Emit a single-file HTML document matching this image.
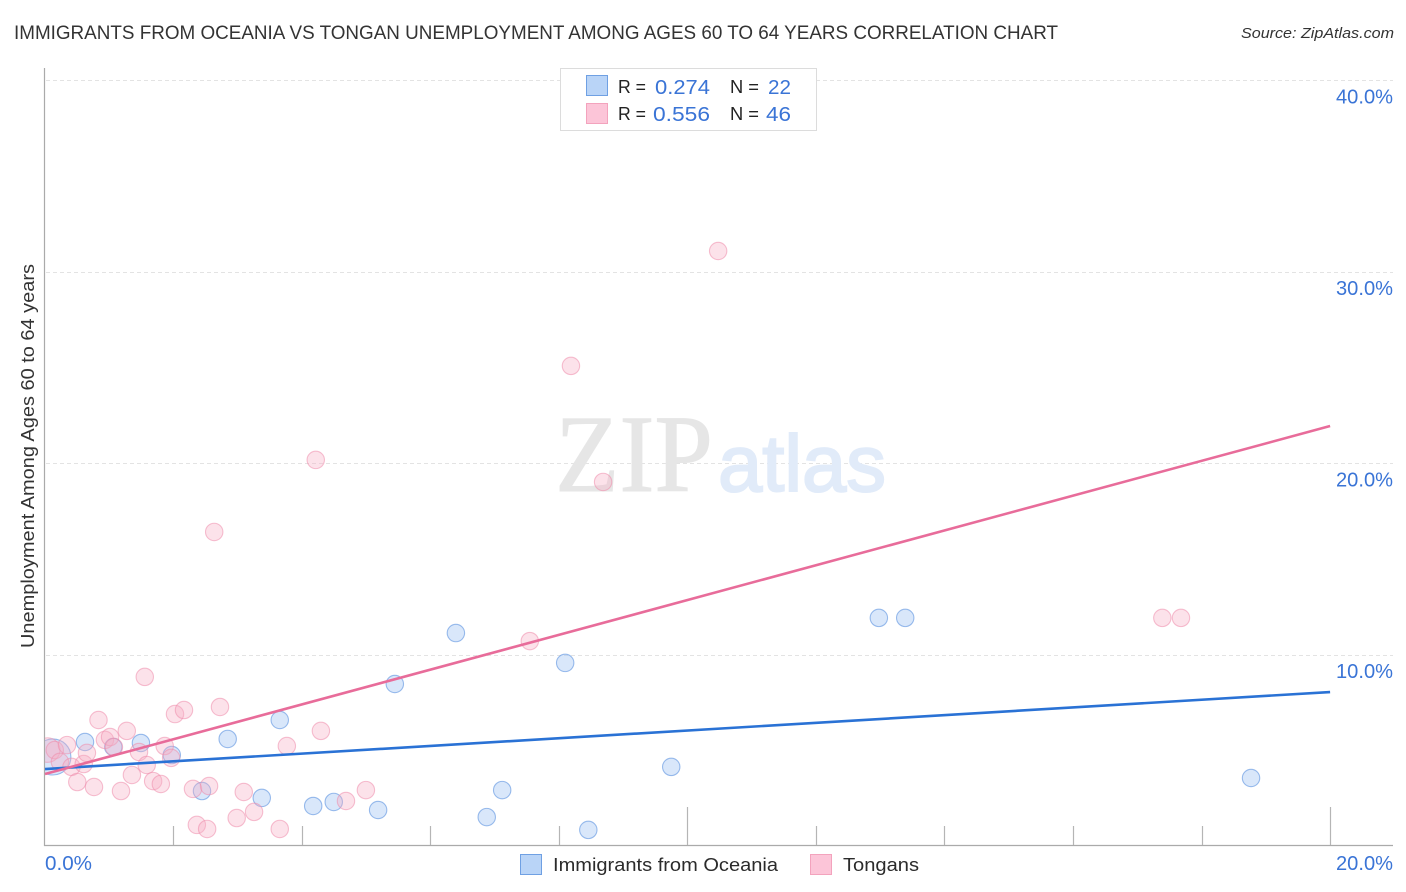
<!DOCTYPE html>
<html lang="en">
<head>
<meta charset="utf-8">
<title>Immigrants from Oceania vs Tongan Unemployment Correlation Chart</title>
<style>
html,body{margin:0;padding:0;background:#fff;width:1406px;height:892px;overflow:hidden}
svg{display:block}
text{font-family:"Liberation Sans",sans-serif}
</style>
</head>
<body>
<svg id="chart" xmlns="http://www.w3.org/2000/svg" width="1406" height="892" viewBox="0 0 1406 892">
  <defs><clipPath id="plot-clip"><rect x="45" y="60" width="1350" height="785"/></clipPath></defs>
  <rect x="0" y="0" width="1406" height="892" fill="#fff"/>
  <text x="14" y="39" font-size="19" fill="#333" textLength="1044" lengthAdjust="spacingAndGlyphs">IMMIGRANTS FROM OCEANIA VS TONGAN UNEMPLOYMENT AMONG AGES 60 TO 64 YEARS CORRELATION CHART</text>
  <text x="1241" y="38" font-size="15" font-style="italic" fill="#333" textLength="153" lengthAdjust="spacingAndGlyphs">Source: ZipAtlas.com</text>
  <text transform="translate(34,648) rotate(-90)" x="0" y="0" font-size="18" fill="#333" textLength="384" lengthAdjust="spacingAndGlyphs">Unemployment Among Ages 60 to 64 years</text>
  <g id="grid"></g>
  <g>
    <text x="555" y="491" font-size="110" fill="#e6e6e6" stroke="#e6e6e6" stroke-width="1" textLength="158" lengthAdjust="spacingAndGlyphs" style="font-family:'Liberation Serif',serif">ZIP</text>
    <text x="718" y="491" font-size="80" fill="#e1ebf9" stroke="#e1ebf9" stroke-width="2" textLength="168" lengthAdjust="spacingAndGlyphs">atlas</text>
  </g>
  <g id="axes"></g>
  <g id="marks" clip-path="url(#plot-clip)"></g>
  <g id="trends"></g>
  <g id="labels"></g>

  <g>
    <rect x="560.5" y="68.5" width="256" height="62" fill="#fff" stroke="#dcdcdc"/>
    <rect x="586.5" y="75.5" width="21" height="20" fill="#b9d4f7" stroke="#6fa0e3"/>
    <rect x="586.5" y="103.5" width="21" height="20" fill="#fcc5d8" stroke="#f3a3bd"/>
    <text x="618" y="93" font-size="18" fill="#222" textLength="28" lengthAdjust="spacingAndGlyphs">R =</text>
    <text x="655" y="94" font-size="20" fill="#3a74d6" textLength="55" lengthAdjust="spacingAndGlyphs">0.274</text>
    <text x="730" y="93" font-size="18" fill="#222" textLength="29" lengthAdjust="spacingAndGlyphs">N =</text>
    <text x="768" y="94" font-size="20" fill="#3a74d6" textLength="23" lengthAdjust="spacingAndGlyphs">22</text>
    <text x="618" y="120" font-size="18" fill="#222" textLength="28" lengthAdjust="spacingAndGlyphs">R =</text>
    <text x="653" y="121" font-size="20" fill="#3a74d6" textLength="57" lengthAdjust="spacingAndGlyphs">0.556</text>
    <text x="730" y="120" font-size="18" fill="#222" textLength="29" lengthAdjust="spacingAndGlyphs">N =</text>
    <text x="766" y="121" font-size="20" fill="#3a74d6" textLength="25" lengthAdjust="spacingAndGlyphs">46</text>
  </g>

  <g>
    <rect x="520.5" y="854.5" width="21" height="20" fill="#b9d4f7" stroke="#6fa0e3"/>
    <text x="553" y="871" font-size="18" fill="#2b2b2b" textLength="225" lengthAdjust="spacingAndGlyphs">Immigrants from Oceania</text>
    <rect x="810.5" y="854.5" width="21" height="20" fill="#fcc5d8" stroke="#f3a3bd"/>
    <text x="843" y="871" font-size="18" fill="#2b2b2b" textLength="76" lengthAdjust="spacingAndGlyphs">Tongans</text>
  </g>
</svg>
<script>
var oceaniaX = [0.13,0.63,1.07,1.50,1.98,2.45,2.85,3.38,3.66,4.18,4.50,5.19,5.45,6.40,6.88,7.12,8.10,8.46,9.75,12.98,13.39,18.77];
var oceaniaY = [4.65,5.43,5.17,5.38,4.75,2.87,5.59,2.51,6.58,2.09,2.30,1.88,8.46,11.12,1.51,2.92,9.56,0.84,4.13,11.91,11.91,3.55];
var oceaniaWeight = [4.3,1,1,1,1,1,1,1,1,1,1,1,1,1,1,1,1,1,1,1,1,1];
var tonganX = [0.05,0.16,0.35,0.24,0.42,0.51,0.61,0.66,0.77,0.84,0.94,1.02,1.08,1.19,1.28,1.36,1.47,1.56,1.59,1.69,1.81,1.87,1.97,2.03,2.17,2.31,2.37,2.53,2.56,2.64,2.73,2.99,3.10,3.26,3.66,3.77,4.22,4.30,4.69,5.00,7.55,8.19,8.69,10.48,17.39,17.68];
var tonganY = [5.01,5.01,5.27,4.39,4.13,3.34,4.28,4.86,3.08,6.58,5.54,5.69,5.17,2.87,6.01,3.71,4.91,8.83,4.23,3.39,3.24,5.22,4.60,6.89,7.10,2.98,1.10,0.89,3.13,16.40,7.26,1.46,2.82,1.78,0.89,5.22,20.16,6.01,2.35,2.92,10.70,25.07,19.01,31.07,11.91,11.91];
var tonganWeight = [2,1,1,1,1,1,1,1,1,1,1,1,1,1,1,1,1,1,1,1,1,1,1,1,1,1,1,1,1,1,1,1,1,1,1,1,1,1,1,1,1,1,1,1,1,1];
var oceaniaTrend = [4.02,8.04];
var tonganTrend = [3.76,21.93];
var trendX = [0,20];
var yTicks = [10,20,30,40];
var yTickLabels = ["10.0%","20.0%","30.0%","40.0%"];
var xTicks = [2,4,6,8,10,12,14,16,18,20];
var xMajorTicks = [10,20];
var xEndLabels = ["0.0%","20.0%"];
var xEndValues = [0,20];

var NS = 'http://www.w3.org/2000/svg';
function xScale(v){ return 44.5 + v * 64.28; }
function yScale(v){ return 846 - v * 19.15; }
function make(tag, parent, attrs){
  var el = document.createElementNS(NS, tag);
  for (var k in attrs) el.setAttribute(k, attrs[k]);
  parent.appendChild(el);
  return el;
}
var grid = document.getElementById('grid');
var axes = document.getElementById('axes');
var marks = document.getElementById('marks');
var trends = document.getElementById('trends');
var labels = document.getElementById('labels');

yTicks.forEach(function(t, i){
  var y = Math.round(yScale(t)) + 0.5;
  var g = make('line', grid, {x1:46, x2:1393, y1:y, y2:y, stroke:'#e3e3e3', 'stroke-width':1, 'stroke-dasharray':'4 3'});
  
  
  var tl = make('text', labels, {x:1336, y:yScale(t) + 23.5, 'font-size':20, fill:'#3a74d6', textLength:57, lengthAdjust:'spacingAndGlyphs'});
  
  
  tl.textContent = yTickLabels[i];
});

var yAxis = make('line', axes, {x1:44.5, x2:44.5, y1:68, y2:846, stroke:'#aaaaaa', 'stroke-width':1.2});


var xAxis = make('line', axes, {x1:44, x2:1393, y1:845.5, y2:845.5, stroke:'#aaaaaa', 'stroke-width':1.2});



xTicks.forEach(function(t){
  var x = Math.round(xScale(t)) + 0.5;
  var top = xMajorTicks.indexOf(t) >= 0 ? 807 : 826;
  var tk = make('line', axes, {x1:x, x2:x, y1:top, y2:845, stroke:'#b5b5b5', 'stroke-width':1.2});
  
  
});

xEndValues.forEach(function(t, i){
  var lx = make('text', labels, {x: i === 0 ? 45 : 1336, y:870, 'font-size':20, fill:'#3a74d6', textLength: i === 0 ? 47 : 57, lengthAdjust:'spacingAndGlyphs'});
  
  
  lx.textContent = xEndLabels[i];
});

function drawSeries(xs, ys, ws, fill, stroke, name){
  xs.forEach(function(v, i){
    var c = make('circle', marks, {cx:xScale(v), cy:yScale(ys[i]), r:8.7 * Math.sqrt(ws[i]), fill:fill, stroke:stroke, 'stroke-width':1.1});
    
    
  });
}
drawSeries(oceaniaX, oceaniaY, oceaniaWeight, 'rgba(165,198,243,0.42)', 'rgba(95,148,224,0.62)', 'oceania-point');
drawSeries(tonganX, tonganY, tonganWeight, 'rgba(248,175,198,0.36)', 'rgba(238,140,172,0.55)', 'tongan-point');

function drawTrend(vals, color, name){
  var l = make('line', trends, {x1:xScale(trendX[0]) + 0.5, y1:yScale(vals[0]), x2:xScale(trendX[1]), y2:yScale(vals[1]), stroke:color, 'stroke-width':2.6});
  
  
}
drawTrend(oceaniaTrend, '#2a72d5', 'oceania-trend-line');
drawTrend(tonganTrend, '#e86c9a', 'tongan-trend-line');
</script>
</body>
</html>
